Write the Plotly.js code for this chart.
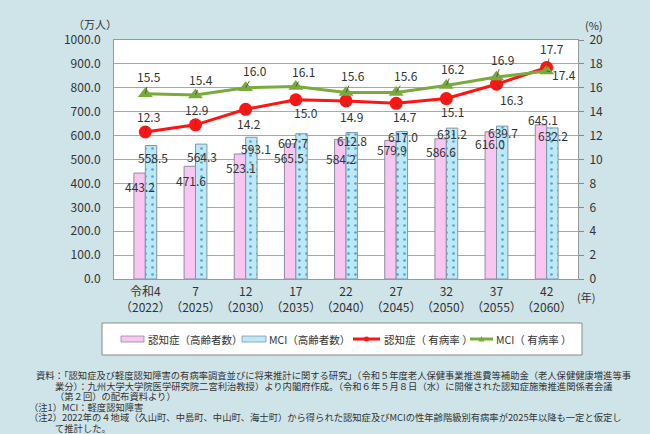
<!DOCTYPE html>
<html>
<head>
<meta charset="utf-8">
<script src="https://cdn.plot.ly/plotly-3.0.1.min.js"></script>
<style>
  html, body { margin: 0; padding: 0; background: #cfe4e9; }
</style>
</head>
<body>
<div id="myPlot" style="width:650px;height:434px;"></div>
<script>
// data
var years = ["令和4<br>（2022）", "7<br>（2025）", "12<br>（2030）", "17<br>（2035）", "22<br>（2040）",
             "27<br>（2045）", "32<br>（2050）", "37<br>（2055）", "42<br>（2060）"];
var dementiaCount = [443.2, 471.6, 523.1, 565.5, 584.2, 579.9, 586.6, 616.0, 645.1];
var mciCount = [558.5, 564.3, 593.1, 607.7, 612.8, 617.0, 631.2, 639.7, 632.2];
var dementiaRate = [12.3, 12.9, 14.2, 15.0, 14.9, 14.7, 15.1, 16.3, 17.7];
var mciRate = [15.5, 15.4, 16.0, 16.1, 15.6, 15.6, 16.2, 16.9, 17.4];

// label placement (pixels), one pair per year
var pinkShift = [[-5, -13], [-4, -14], [-5, -14], [-7, -14], [-5, -19], [-4, -9], [-5, -13], [-7, -12], [-4, 5]];
var blueShift = [[8, -12], [7, -12], [10, -11], [-3, -9], [6, -8], [7, -5], [6, -5], [6, -6], [6, -8]];
var redOff = [[3, -16], [1, -15], [3, 14], [10, 13], [5, 16], [9, 13], [6, 13], [15, 15], [5, -19]];
var greenOff = [[4, -17], [6, -15], [9, -17], [8, -15], [7, -17], [10, -17], [7, -17], [6, -18], [17, 3]];

var FONT = "Noto Sans CJK JP, Noto Sans, sans-serif";
var TXT = "#333333";

// plot area in pixels: x 114..578, y 40..279
function px(x) { return (x - 114) / 464; }
function py(y) { return (279 - y) / 239; }

var data = [
  {type: "bar", x: years, y: dementiaCount, name: "認知症（高齢者数）", yaxis: "y",
   marker: {color: "#f9c6f1", line: {color: "#8c8c9c", width: 1}}},
  {type: "bar", x: years, y: mciCount, name: "MCI（高齢者数）", yaxis: "y",
   marker: {color: "#bde8f8", line: {color: "#7f97a6", width: 1},
            pattern: {shape: ".", fgcolor: "#4fa8cc", bgcolor: "#bde8f8", size: 7, solidity: 0.12}}},
  {type: "scatter", mode: "lines+markers", x: years, y: dementiaRate, name: "認知症（ 有病率 ）", yaxis: "y2",
   line: {color: "#ff1414", width: 3}, marker: {symbol: "circle", size: 13, color: "#ff1414"}},
  {type: "scatter", mode: "lines+markers", x: years, y: mciRate, name: "MCI（ 有病率 ）", yaxis: "y2",
   line: {color: "#78aa3c", width: 3}, marker: {symbol: "triangle-up", size: 13, color: "#78aa3c"}}
];

var ann = [];
for (var i = 0; i < years.length; i++) {
  ann.push({x: years[i], y: dementiaCount[i], xref: "x", yref: "y", text: dementiaCount[i].toFixed(1),
            showarrow: false, xshift: pinkShift[i][0], yshift: pinkShift[i][1],
            font: {family: FONT, size: 12, color: TXT}});
  ann.push({x: years[i], y: mciCount[i], xref: "x", yref: "y", text: mciCount[i].toFixed(1),
            showarrow: false, xshift: blueShift[i][0], yshift: blueShift[i][1],
            font: {family: FONT, size: 12, color: TXT}});
  ann.push({x: years[i], y: dementiaRate[i], xref: "x", yref: "y2", text: dementiaRate[i].toFixed(1),
            showarrow: true, arrowhead: 0, arrowwidth: 0.8, arrowcolor: "#444",
            ax: redOff[i][0], ay: redOff[i][1], font: {family: FONT, size: 12, color: TXT}});
  ann.push({x: years[i], y: mciRate[i], xref: "x", yref: "y2", text: mciRate[i].toFixed(1),
            showarrow: true, arrowhead: 0, arrowwidth: 0.8, arrowcolor: "#444",
            ax: greenOff[i][0], ay: greenOff[i][1], font: {family: FONT, size: 12, color: TXT}});
}

function label(text, x, y, size, anchor) {
  ann.push({text: text, xref: "paper", yref: "paper", x: px(x), y: py(y), showarrow: false,
            xanchor: anchor || "left", yanchor: "middle", borderpad: 0,
            font: {family: FONT, size: size, color: TXT}});
}

// axis units
label("（万人）", 95, 24, 11, "center");
label("(%)", 594, 25, 11, "center");
label("(年)", 586, 297, 11, "center");

// legend texts
label("認知症（高齢者数）", 147, 339, 10.5);
label("MCI（高齢者数）", 268, 339, 10.5);
label("認知症（ 有病率 ）", 383, 339, 10.5);
label("MCI（ 有病率 ）", 495, 339, 10.5);

// notes
var notes = [
  [35, 375, "資料：「認知症及び軽度認知障害の有病率調査並びに将来推計に関する研究」（令和５年度老人保健事業推進費等補助金（老人保健健康増進等事"],
  [54, 385.5, "業分）：九州大学大学院医学研究院二宮利治教授）より内閣府作成。（令和６年５月８日（水）に開催された認知症施策推進関係者会議"],
  [54, 396, "（第２回）の配布資料より）"],
  [28, 406.5, "（注1）MCI：軽度認知障害"],
  [28, 417, "（注2）2022年の４地域（久山町、中島町、中山町、海士町）から得られた認知症及びMCIの性年齢階級別有病率が2025年以降も一定と仮定し"],
  [54, 427.5, "て推計した。"]
];
notes.forEach(function (n) { label(n[2], n[0], n[1], 9.3); });

var shapes = [
  // legend box
  {type: "rect", xref: "paper", yref: "paper", x0: px(102), x1: px(582), y0: py(323), y1: py(355),
   line: {color: "#8a8a8a", width: 1}, fillcolor: "white", layer: "below"},
  {type: "rect", xref: "paper", yref: "paper", x0: px(121), x1: px(144), y0: py(336), y1: py(342),
   line: {color: "#8c8c9c", width: 0.8}, fillcolor: "#f9c6f1"},
  {type: "rect", xref: "paper", yref: "paper", x0: px(242), x1: px(266), y0: py(336), y1: py(342),
   line: {color: "#7f97a6", width: 0.8}, fillcolor: "#bde8f8"},
  {type: "line", xref: "paper", yref: "paper", x0: px(353), x1: px(380), y0: py(339), y1: py(339),
   line: {color: "#ff1414", width: 3}},
  {type: "circle", xref: "paper", yref: "paper", x0: px(364), x1: px(369), y0: py(336.5), y1: py(341.5),
   line: {width: 0}, fillcolor: "#ff1414"},
  {type: "line", xref: "paper", yref: "paper", x0: px(470), x1: px(493), y0: py(339), y1: py(339),
   line: {color: "#78aa3c", width: 3}},
  {type: "path", xref: "paper", yref: "paper",
   path: "M" + px(478.5) + "," + py(341.5) + " L" + px(484.5) + "," + py(341.5) + " L" + px(481.5) + "," + py(336) + " Z",
   line: {width: 0}, fillcolor: "#78aa3c"}
];

var layout = {
  width: 650, height: 434,
  margin: {l: 114, r: 72, t: 40, b: 155},
  paper_bgcolor: "#cfe4e9",
  plot_bgcolor: "white",
  showlegend: false,
  barmode: "group",
  bargap: 0.545,
  bargroupgap: 0,
  font: {family: FONT, size: 12, color: TXT},
  xaxis: {type: "category", showline: true, linecolor: "#999", mirror: true, ticks: "", tickangle: 0,
          tickfont: {family: FONT, size: 12, color: TXT}, ticklabelstandoff: 2, automargin: false},
  yaxis: {range: [0, 1000], dtick: 100, tickformat: ".1f", showgrid: true, gridcolor: "#a8a8a8",
          showline: true, linecolor: "#999", ticks: "", zeroline: false, ticklabelstandoff: 10,
          tickfont: {family: FONT, size: 12, color: TXT}},
  yaxis2: {range: [0, 20], dtick: 2, overlaying: "y", side: "right", showgrid: false, zeroline: false,
           showline: true, linecolor: "#999", ticks: "outside", ticklen: 5, tickcolor: "#888",
           ticklabelstandoff: 3, tickfont: {family: FONT, size: 12, color: TXT}},
  annotations: ann,
  shapes: shapes
};

Plotly.newPlot("myPlot", data, layout, {displayModeBar: false, staticPlot: true});
</script>
</body>
</html>
